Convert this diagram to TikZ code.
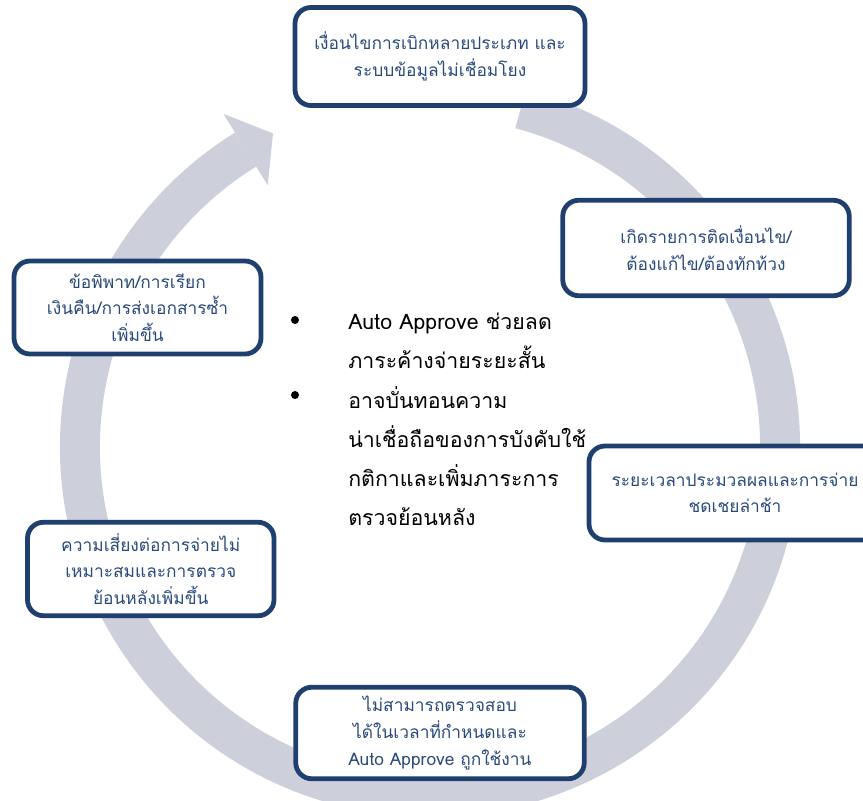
\documentclass[tikz,border=0pt]{standalone}
\usepackage{fontspec}
\setmainfont[Script=Thai]{Loma}
\usetikzlibrary{calc}
\definecolor{ringgray}{HTML}{CDD0DA}
\definecolor{boxnavy}{HTML}{1F406F}
\definecolor{textnavy}{HTML}{2A4A7C}
\begin{document}
\begin{tikzpicture}[x=0.75pt,y=0.75pt,
  stage/.style={draw=boxnavy, line width=3.6pt, fill=white, rounded corners=12pt,
    align=center, text=textnavy, inner sep=0pt,
    font=\fontsize{13}{20}\selectfont},
  note/.style={anchor=base west, align=left, inner sep=0pt, text=black,
    font=\fontsize{16}{29.25}\selectfont},
  dot/.style={circle, fill=black, inner sep=0pt, minimum size=6pt}]
\clip (0,0) rectangle (863,800);

% cycle ring with its arrowhead
\coordinate (ctr) at (430,353);
\draw[ringgray, line width=30pt]
  ([shift={(75:262.5pt)}]ctr) arc[start angle=75, end angle=-238.2, radius=262.5pt];
\fill[ringgray] ([shift={(121.8:294pt)}]ctr) -- ([shift={(116.6:263pt)}]ctr)
  -- ([shift={(121.8:231pt)}]ctr) -- cycle;

% stages around the cycle
\node[stage, minimum width={290*0.75pt}, minimum height={98*0.75pt}] (s1) at (440,743.5)
  {เงื่อนไขการเบิกหลายประเภท และ\\ระบบข้อมูลไม่เชื่อมโยง};
\node[stage, minimum width={286.5*0.75pt}, minimum height={95.5*0.75pt}] (s2) at (706,552)
  {เกิดรายการติดเงื่อนไข/\\ต้องแก้ไข/ต้องทักท้วง};
\node[stage, minimum width={292*0.75pt}, minimum height={94*0.75pt}] (s3) at (735,307)
  {ระยะเวลาประมวลผลและการจ่าย\\ชดเชยล่าช้า};
\node[stage, minimum width={288.5*0.75pt}, minimum height={91.5*0.75pt}] (s4) at (440,67)
  {ไม่สามารถตรวจสอบ\\ได้ในเวลาที่กำหนดและ\\Auto Approve ถูกใช้งาน};
\node[stage, minimum width={246.5*0.75pt}, minimum height={93.5*0.75pt}] (s5) at (150.75,231)
  {ความเสี่ยงต่อการจ่ายไม่\\เหมาะสมและการตรวจ\\ย้อนหลังเพิ่มขึ้น};
\node[stage, minimum width={247*0.75pt}, minimum height={93*0.75pt}] (s6) at (137.5,492.5)
  {ข้อพิพาท/การเรียก\\เงินคืน/การส่งเอกสารซ้ำ\\เพิ่มขึ้น};

% central notes (base anchor sits on the last line)
\node[dot] (b1) at (295,480) {};
\node[note] (n1) at (348,431) {Auto Approve ช่วยลด\\ภาระค้างจ่ายระยะสั้น};
\node[dot] (b2) at (295,405) {};
\node[note] (n2) at (348,275)
  {อาจบั่นทอนความ\\น่าเชื่อถือของการบังคับใช้\\กติกาและเพิ่มภาระการ\\ตรวจย้อนหลัง};
\end{tikzpicture}
\end{document}
